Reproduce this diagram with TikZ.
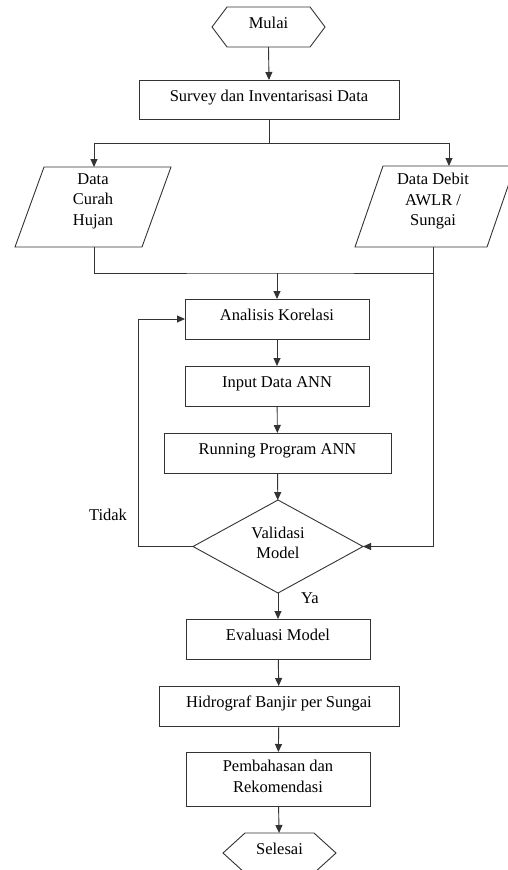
\documentclass[tikz,border=0pt]{standalone}
\usepackage{fontspec}
\setmainfont{Liberation Serif}
\usetikzlibrary{arrows.meta,shapes.geometric}
\begin{document}
\begin{tikzpicture}[x=1pt,y=-1pt,
  font=\fontsize{16.5}{20.5}\selectfont,
  line/.style={draw=black!80, line width=0.9pt},
  arr/.style={line, -{Triangle[length=8pt,width=7pt]}},
  frame/.style={rectangle, inner sep=0pt, outer sep=0pt, text height=8pt, text depth=5pt},
  box/.style={frame, line},
  txt/.style={align=center, inner sep=0pt, outer sep=0pt},
  lbl/.style={anchor=base, inner sep=0pt}]
\useasboundingbox (0,0) rectangle (507,870);

% start
\node[frame, minimum width=113pt, minimum height=40pt] (mulai) at (268.5,27) {Mulai};
\draw[line] (mulai.west) -- ([xshift=15pt]mulai.north west) -- ([xshift=-15pt]mulai.north east) -- (mulai.east) -- ([xshift=-15pt]mulai.south east) -- ([xshift=15pt]mulai.south west) -- cycle;

\node[box, minimum width=260pt, minimum height=39pt] (survey) at (269,99.5) {Survey dan Inventarisasi Data};

% data inputs
\node[frame, minimum width=156pt, minimum height=80pt] (curah) at (93,207) {};
\draw[line] ([xshift=29pt]curah.north west) -- (curah.north east) -- ([xshift=-29pt]curah.south east) -- (curah.south west) -- cycle;
\node[txt] (curahtxt) at (93,201) {Data\\Curah\\Hujan};

\node[frame, minimum width=160pt, minimum height=81pt] (debit) at (435,206.5) {};
\draw[line] ([xshift=28pt]debit.north west) -- (debit.north east) -- ([xshift=-28pt]debit.south east) -- (debit.south west) -- cycle;
\node[txt] (debittxt) at (433,201.5) {Data Debit\\AWLR /\\Sungai};

% process
\node[box, minimum width=184pt, minimum height=40pt] (analisis) at (277,319) {Analisis Korelasi};
\node[box, minimum width=184pt, minimum height=40pt] (input) at (277,386) {Input Data ANN};
\node[box, minimum width=227pt, minimum height=40pt] (running) at (277.5,453) {Running Program ANN};

\node[diamond, line, inner sep=0pt, outer sep=0pt, minimum width=170pt, minimum height=93pt] (validasi) at (278,546.5) {};
\node[txt] (validasitxt) at (278,543) {Validasi\\Model};

\node[box, minimum width=184pt, minimum height=40pt] (evaluasi) at (278,639) {Evaluasi Model};
\node[box, minimum width=240pt, minimum height=40pt] (hidrograf) at (279,706) {Hidrograf Banjir per Sungai};
\node[box, minimum width=184pt, minimum height=54pt] (pembahasan) at (278,779) {};
\node[txt] (pembahasantxt) at (278,776.5) {Pembahasan dan\\Rekomendasi};

\node[frame, minimum width=113pt, minimum height=40pt] (selesai) at (279.5,853) {Selesai};
\draw[line] (selesai.west) -- ([xshift=22pt]selesai.north west) -- ([xshift=-22pt]selesai.north east) -- (selesai.east) -- ([xshift=-22pt]selesai.south east) -- ([xshift=22pt]selesai.south west) -- cycle;

% labels
\node[lbl] (tidak) at (108,520) {Tidak};
\node[lbl] (ya) at (310,603) {Ya};

% connectors
\coordinate (split) at (269,143);
\coordinate (merge) at (277,273);
\coordinate (dbot) at (433,247);
\draw[arr] (mulai.south) -- (survey.north);
\draw[line] (survey.south) -- (split);
\draw[arr] (split) -| ([xshift=1pt]curah.north);
\draw[arr] (split) -| ([xshift=14pt]debit.north);
\draw[line] ([xshift=1pt]curah.south) |- (merge) -- (merge -| dbot);
\draw[arr] (merge) -- (analisis.north);
\draw[arr] (dbot) |- (validasi.east);
\draw[arr] (analisis) -- (input);
\draw[arr] (input) -- (running);
\draw[arr] (running) -- (validasi);
\draw[arr] (validasi.west) -- (138,546.5) |- (analisis.west);
\draw[arr] (validasi.south) -- (evaluasi.north);
\draw[arr] (evaluasi) -- (hidrograf);
\draw[arr] (hidrograf) -- (pembahasan);
\draw[arr] (pembahasan) -- (selesai);
\end{tikzpicture}
\end{document}
